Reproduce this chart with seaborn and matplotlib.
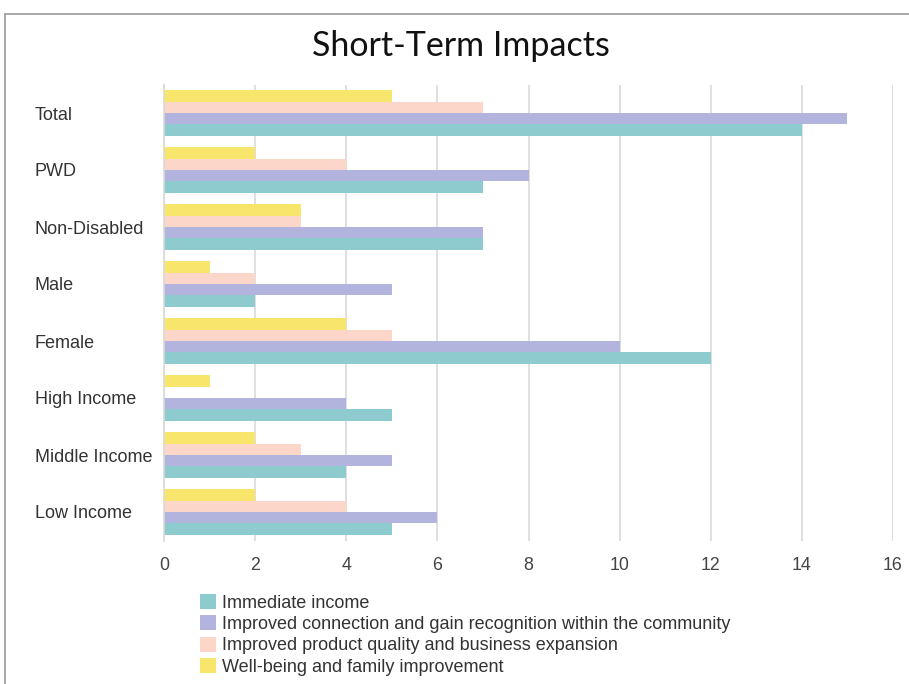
import matplotlib
matplotlib.use("Agg")
import matplotlib.pyplot as plt
from matplotlib.patches import Patch
from matplotlib.lines import Line2D
import seaborn as sns
import pandas as pd

categories = ["Total", "PWD", "Non-Disabled", "Male", "Female",
              "High Income", "Middle Income", "Low Income"]
immediate_income = [14, 7, 7, 2, 12, 5, 4, 5]
improved_connection = [15, 8, 7, 5, 10, 4, 5, 6]
product_quality = [7, 4, 3, 2, 5, 0, 3, 4]
well_being = [5, 2, 3, 1, 4, 1, 2, 2]

series_names = [
    "Immediate income",
    "Improved connection and gain recognition within the community",
    "Improved product quality and business expansion",
    "Well-being and family improvement",
]
series_values = [immediate_income, improved_connection, product_quality, well_being]
series_colors = ["#8ecbcf", "#b3b4de", "#fbd6c9", "#f8e56b"]

rows = []
for name, vals in zip(series_names, series_values):
    for cat, v in zip(categories, vals):
        rows.append({"category": cat, "series": name, "value": v})
df = pd.DataFrame(rows)

sns.set_theme(style="white")
plt.rcParams["font.family"] = ["Liberation Sans", "DejaVu Sans"]

fig = plt.figure(figsize=(9.09, 6.84), dpi=100)
ax = fig.add_axes([164 / 909, 1 - 540.5 / 684, (893 - 164) / 909, 456 / 684])

# draw order within each group: top to bottom
draw_order = series_names[::-1]
palette = dict(zip(series_names, series_colors))
sns.barplot(data=df, y="category", x="value", hue="series", order=categories,
            hue_order=draw_order, palette=palette, orient="h", width=0.8,
            saturation=1, ax=ax, legend=False, errorbar=None, linewidth=0)

ax.set_xlim(0, 16)
ax.set_ylim(7.5, -0.5)
ax.set_xticks(range(0, 17, 2))
ax.xaxis.grid(True, color="#d9d9d9", linewidth=1.2)
ax.set_axisbelow(True)
for s in ["top", "right", "bottom"]:
    ax.spines[s].set_visible(False)
ax.spines["left"].set_color("#d9d9d9")
ax.spines["left"].set_linewidth(1.2)
ax.set_xlabel("")
ax.set_ylabel("")
ax.tick_params(axis="x", length=0, pad=12, labelsize=12.8, labelcolor="#444444")
ax.tick_params(axis="y", length=0, pad=93, labelsize=13.0, labelcolor="#333333")
for lbl in ax.get_yticklabels():
    lbl.set_ha("left")

fig.text(461 / 909, 1 - 46 / 684, "Short-Term Impacts", ha="center", va="center",
         fontsize=24.5, color="#111111", family=["Lato", "DejaVu Sans"])

handles = [Patch(facecolor=c, edgecolor="none") for c in series_colors]
fig.legend(handles, series_names, loc="upper left",
           bbox_to_anchor=(200 / 909, 1 - 594 / 684), frameon=False,
           fontsize=13.0, handlelength=0.9, handleheight=0.9, handletextpad=0.3,
           labelspacing=0.2, borderaxespad=0, borderpad=0,
           labelcolor="#333333")

# outer frame lines (top and left)
fig.add_artist(Line2D([5 / 909, 5 / 909], [0, 1 - 14 / 684],
                      transform=fig.transFigure, color="#9a9a9a", linewidth=1.2))
fig.add_artist(Line2D([5 / 909, 1], [1 - 14 / 684, 1 - 14 / 684],
                      transform=fig.transFigure, color="#9a9a9a", linewidth=1.2))

fig.savefig("out.png", dpi=100, facecolor="white")
